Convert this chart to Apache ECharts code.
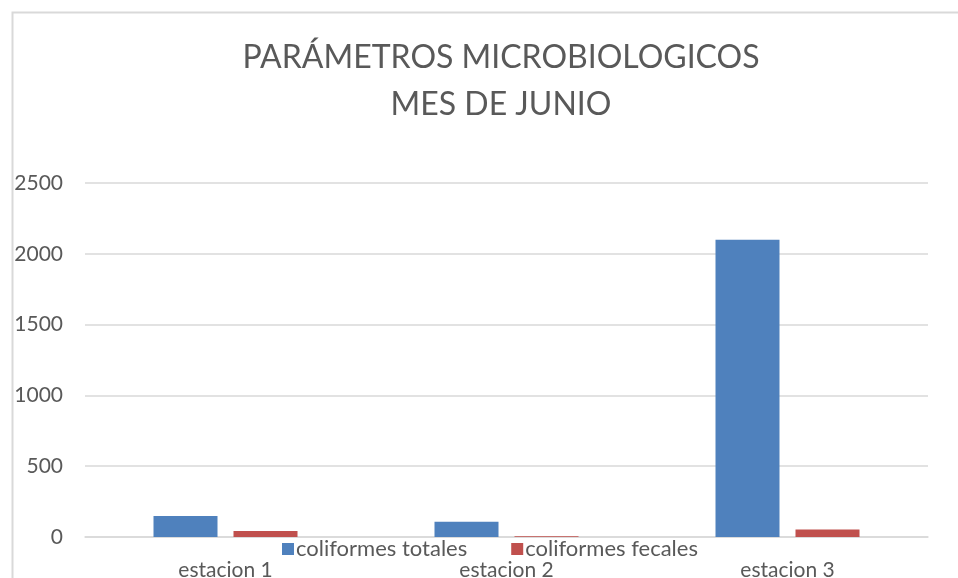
<!DOCTYPE html>
<html>
<head>
<meta charset="utf-8">
<script src="https://cdn.jsdelivr.net/npm/echarts@6/dist/echarts.min.js"></script>
<style>html,body{margin:0;padding:0;background:#fff;}#c{width:958px;height:578px;}</style>
</head>
<body>
<div id="c"></div>
<script>
var categories = ['estacion 1', 'estacion 2', 'estacion 3'];
var totales = [148, 107, 2100];
var fecales = [43, 5, 53];
var seriesNames = ['coliformes totales', 'coliformes fecales'];
var titleText = 'PARÁMETROS MICROBIOLOGICOS\nMES DE JUNIO';

var FONT = 'Lato';
var chart = echarts.init(document.getElementById('c'), null, {renderer: 'canvas'});
chart.setOption({
  animation: false,
  backgroundColor: '#fff',
  graphic: [{
    type: 'rect', left: 10, top: 10, silent: true,
    shape: {x: 0, y: 0, width: 1000, height: 620},
    style: {fill: 'none', stroke: '#d9d9d9', lineWidth: 2}
  }],
  title: {
    text: titleText, left: 496, textAlign: 'center', top: 29,
    textStyle: {fontFamily: FONT, fontWeight: 'normal', fontSize: 32, lineHeight: 47, color: '#595959'}
  },
  legend: {
    data: seriesNames, left: 277, top: 533, itemWidth: 12, itemHeight: 12, itemGap: 44,
    icon: 'rect',
    textStyle: {fontFamily: FONT, fontSize: 22, color: '#595959', padding: [0, 0, 0, -3]}
  },
  grid: {left: 85, right: 30, top: 183, bottom: 41, containLabel: false, outerBoundsMode: 'none'},
  xAxis: {
    type: 'category', data: categories,
    axisLine: {lineStyle: {color: '#d9d9d9', width: 1.5}},
    axisTick: {show: false},
    axisLabel: {fontFamily: FONT, fontSize: 21, color: '#595959', margin: 23}
  },
  yAxis: {
    type: 'value', min: 0, max: 2500, interval: 500,
    axisLine: {show: false}, axisTick: {show: false},
    splitLine: {lineStyle: {color: '#d9d9d9', width: 1.5}},
    axisLabel: {fontFamily: FONT, fontSize: 21, color: '#595959', margin: 22, formatter: function (v) { return String(v); }}
  },
  series: [
    {name: seriesNames[0], type: 'bar', data: totales, barWidth: 64, barGap: '25%', itemStyle: {color: '#4f81bd'}},
    {name: seriesNames[1], type: 'bar', data: fecales, barWidth: 64, itemStyle: {color: '#c0504d'}}
  ]
});
</script>
</body>
</html>
